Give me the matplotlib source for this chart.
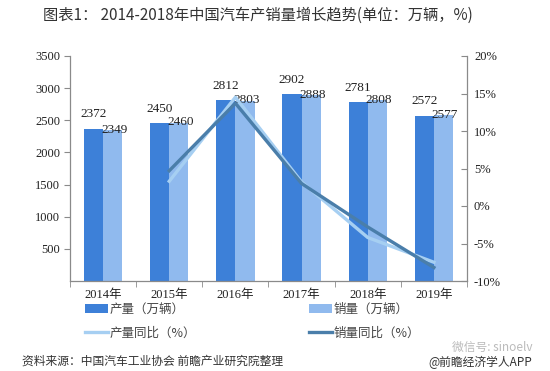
import matplotlib
matplotlib.use("Agg")
import matplotlib.pyplot as plt
import numpy as np
from matplotlib.ticker import FuncFormatter

plt.rcParams['font.family'] = ['Noto Sans CJK SC', 'DejaVu Sans']

years = ['2014年', '2015年', '2016年', '2017年', '2018年', '2019年']
production = [2372, 2450, 2812, 2902, 2781, 2572]
sales = [2349, 2460, 2803, 2888, 2808, 2577]
prod_yoy = [None, 3.3, 14.5, 3.2, -4.2, -7.5]
sales_yoy = [None, 4.7, 13.7, 3.0, -2.8, -8.2]

c_prod = '#3d80d8'
c_sales = '#90baee'
c_prod_line = '#a6cff2'
c_sales_line = '#4a7eaa'
txt = '#222222'
spine_c = '#8a8a8a'
numfont = ['Liberation Serif', 'Noto Sans CJK SC']

fig = plt.figure(figsize=(5.5, 3.71), dpi=100)
ax = fig.add_axes([70/550, 1-281/371, (467-70)/550, (281-56)/371])
ax2 = ax.twinx()

x = np.arange(len(years))
w = 0.29
b1 = ax.bar(x - w/2, production, w, color=c_prod, label='产量（万辆）', zorder=2)
b2 = ax.bar(x + w/2, sales, w, color=c_sales, label='销量（万辆）', zorder=2)

for xi, v in zip(x, production):
    ax.annotate(str(v), (xi - w/2, v), xytext=(0, 6), textcoords='offset points',
                ha='center', va='bottom', fontsize=9.5, color=txt, family=numfont, zorder=5)
for xi, v in zip(x, sales):
    ax.annotate(str(v), (xi + w/2, v), xytext=(1, -4), textcoords='offset points',
                ha='center', va='bottom', fontsize=9.5, color=txt, family=numfont, zorder=5)

xl = x[1:]
l1, = ax2.plot(xl, prod_yoy[1:], color=c_prod_line, lw=2.4, label='产量同比（%）', zorder=3)
l2, = ax2.plot(xl, sales_yoy[1:], color=c_sales_line, lw=2.4, label='销量同比（%）', zorder=4)

ax.set_xlim(-0.5, 5.5)
ax.set_ylim(0, 3500)
ax.set_yticks(np.arange(500, 3501, 500))
ax2.set_ylim(-10, 20)
ax2.set_yticks(np.arange(-10, 21, 5))
ax2.yaxis.set_major_formatter(FuncFormatter(lambda v, p: '%d%%' % v))

ax.set_xticks(x)
ax.set_xticklabels(years)
ax.set_xticks(np.arange(-0.5, 6.0, 1.0), minor=True)
ax.tick_params(axis='x', which='major', length=0, pad=6, labelsize=9, colors=txt)
ax.tick_params(axis='x', which='minor', length=4, color=spine_c, direction='out')
ax.tick_params(axis='y', length=4, color=spine_c, labelsize=9, colors=txt, pad=3)
ax2.tick_params(axis='y', length=4, color=spine_c, labelsize=9, colors=txt, direction='in', pad=5)
for lab in ax.get_xticklabels() + ax.get_yticklabels() + ax2.get_yticklabels():
    lab.set_family(numfont)
    lab.set_color(txt)

for a in (ax, ax2):
    a.spines['top'].set_visible(False)
    for s in ('left', 'right', 'bottom'):
        a.spines[s].set_color(spine_c)
        a.spines[s].set_linewidth(0.9)
ax2.spines['left'].set_visible(False)
ax.spines['right'].set_visible(False)
ax2.spines['bottom'].set_visible(False)

fig.legend(handles=[b1, l1, b2, l2], ncol=2, loc='upper left',
           bbox_to_anchor=(85/550, 1-303/371), frameon=False, fontsize=9,
           handlelength=1.8, handletextpad=0.2, columnspacing=9.0,
           labelspacing=0.85, borderpad=0, borderaxespad=0, labelcolor='#444444')

fig.text(0.468, 1-15/371, '图表1： 2014-2018年中国汽车产销量增长趋势(单位：万辆，%)',
         ha='center', va='center', fontsize=11, color='#333333')
fig.text(22/550, 1-361/371, '资料来源：中国汽车工业协会 前瞻产业研究院整理',
         ha='left', va='center', fontsize=8.5, color='#333333')
fig.text(532/550, 1-362/371, '@前瞻经济学人APP', ha='right', va='center',
         fontsize=8.5, color='#333333')
fig.text(533/550, 1-347/371, '微信号: sinoelv', ha='right', va='center',
         fontsize=8.5, color='#bbbbbb')

fig.savefig('out.png', dpi=100)
